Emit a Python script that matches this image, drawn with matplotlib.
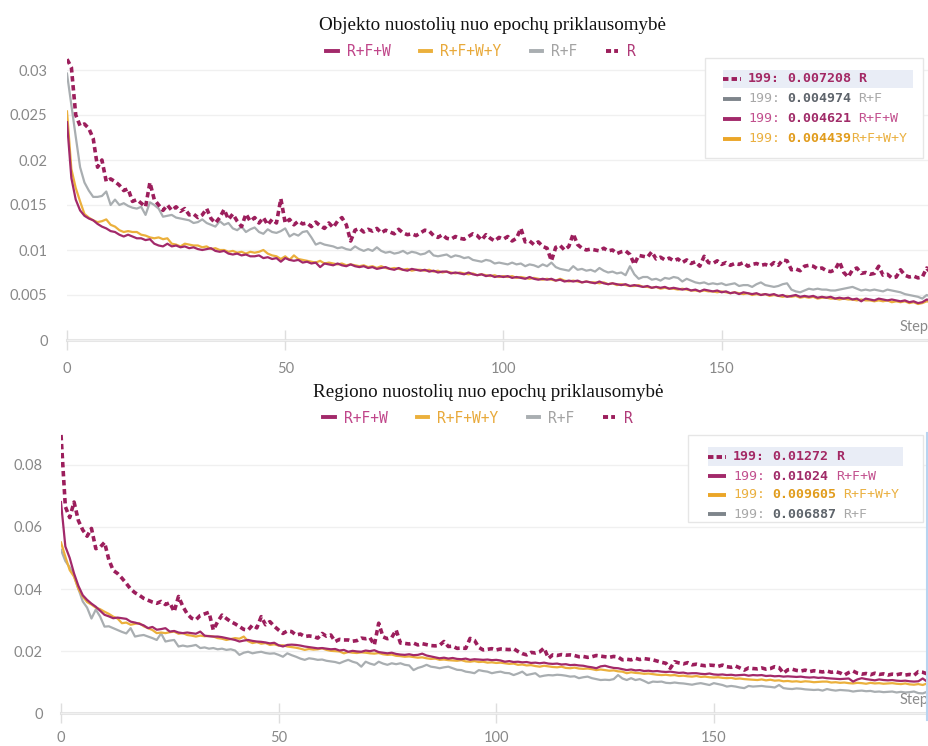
"""Loss vs. epoch plots (object loss and region loss) for four input configurations."""

import numpy as np
import matplotlib

matplotlib.use("Agg")
import matplotlib.pyplot as plt
from matplotlib.lines import Line2D
from matplotlib.patches import Rectangle

W, H = 929, 746

steps = np.arange(200)
series_names = ["R+F+W", "R+F+W+Y", "R+F", "R"]

# --- object loss (values x 1e-3) ---
obj_r = [
    31.2, 30.3, 25.0, 23.8, 24.0, 23.5, 22.4, 19.2, 20.0, 17.6,
    17.9, 17.6, 17.2, 16.6, 16.8, 15.4, 15.6, 15.2, 14.8, 17.5,
    15.6, 15.0, 14.4, 15.0, 14.4, 14.8, 14.3, 14.6, 13.9, 14.0,
    13.6, 13.9, 14.6, 13.5, 13.0, 13.6, 14.5, 13.4, 14.0, 13.2,
    12.6, 14.0, 13.2, 13.6, 13.0, 13.6, 12.8, 13.4, 13.0, 15.7,
    13.0, 13.4, 12.8, 13.2, 12.9, 13.0, 12.6, 13.1, 12.7, 12.4,
    13.0, 12.5, 13.2, 13.6, 12.8, 11.0, 12.2, 12.4, 12.0, 12.3,
    12.1, 12.4, 11.9, 12.2, 12.0, 11.8, 12.3, 11.9, 11.7, 11.8,
    11.6, 11.9, 12.2, 12.1, 11.6, 11.4, 11.7, 11.3, 11.2, 11.5,
    11.3, 11.2, 11.5, 11.8, 11.6, 11.1, 11.7, 11.3, 11.0, 11.4,
    11.2, 11.5, 11.0, 11.3, 12.4, 10.9, 11.0, 10.6, 10.9, 10.4,
    10.2, 8.8, 10.3, 10.5, 10.0, 10.4, 11.8, 10.6, 10.2, 10.0,
    10.1, 10.0, 9.9, 10.2, 9.9, 10.0, 9.6, 9.8, 9.9, 9.5,
    8.4, 9.4, 9.3, 9.2, 9.8, 9.0, 9.2, 8.9, 9.1, 8.8,
    9.0, 8.6, 8.9, 8.5, 8.7, 8.2, 9.3, 8.6, 8.5, 8.8,
    8.4, 8.6, 8.3, 8.5, 8.4, 8.6, 8.2, 8.4, 8.5, 8.3,
    8.4, 8.2, 8.6, 8.3, 8.9, 8.8, 7.8, 7.9, 7.7, 8.2,
    8.3, 8.2, 7.9, 8.0, 7.7, 7.6, 7.8, 8.7, 7.5, 7.0,
    7.8, 8.0, 7.4, 7.5, 7.3, 7.4, 8.2, 7.2, 7.3, 6.9,
    7.0, 7.8, 7.2, 7.0, 7.1, 6.9, 7.0, 8.0, 7.4, 7.2,
]
obj_rf = [
    29.6, 26.1, 22.6, 19.2, 17.5, 16.6, 15.9, 15.9, 16.0, 16.5,
    15.0, 15.6, 15.0, 15.2, 14.9, 14.7, 14.6, 14.8, 13.9, 15.3,
    15.0, 14.6, 13.7, 13.8, 13.9, 13.6, 13.5, 13.4, 13.3, 13.0,
    13.1, 13.4, 13.0, 12.8, 12.6, 13.2, 12.8, 13.0, 12.4, 12.2,
    12.6, 12.0, 12.3, 12.5, 12.0, 11.8, 12.3, 12.0, 11.9, 12.1,
    12.4, 11.5, 11.8, 11.6, 12.0, 12.1, 11.4, 10.6, 10.8, 10.6,
    10.5, 10.4, 10.2, 10.3, 10.1, 10.0, 10.4, 10.1, 9.9, 10.1,
    9.9, 10.3, 9.9, 9.7, 9.8, 9.6, 9.7, 9.9, 9.6, 9.8,
    9.7, 9.5, 9.6, 9.9, 9.4, 9.3, 9.4, 9.5, 9.2, 9.4,
    9.3, 9.1, 9.2, 8.9, 8.8, 8.7, 8.9, 8.8, 8.5, 8.6,
    8.5, 8.4, 8.6, 8.4, 8.5, 8.2, 8.4, 8.3, 8.1, 8.4,
    8.2, 8.6, 8.1, 7.9, 7.8, 7.7, 8.2, 7.8, 7.9, 7.7,
    7.8, 7.6, 8.0, 7.7, 7.5, 7.6, 7.4, 7.5, 7.2, 8.2,
    7.3, 6.8, 7.0, 7.0, 6.7, 6.8, 6.6, 6.9, 6.8, 7.0,
    6.9, 6.5, 6.8, 6.6, 6.4, 6.3, 6.4, 6.2, 6.3, 6.2,
    6.3, 6.1, 6.2, 6.3, 6.0, 6.1, 6.1, 5.9, 6.2, 6.4,
    6.1, 6.0, 5.9, 6.0, 6.2, 6.3, 5.6, 5.4, 5.3, 5.5,
    5.7, 5.6, 5.7, 5.6, 5.6, 5.5, 5.5, 5.6, 5.7, 5.8,
    5.9, 5.7, 5.5, 5.6, 5.5, 5.6, 5.5, 5.4, 5.6, 5.5,
    5.4, 5.3, 5.1, 5.0, 4.9, 4.8, 4.6, 5.0, 4.8, 5.0,
]
obj_rfw = [
    24.2, 18.0, 15.6, 14.4, 13.8, 13.5, 13.3, 12.9, 12.6, 12.4,
    12.1, 12.0, 11.7, 11.5, 11.7, 11.5, 11.3, 11.3, 11.1, 11.2,
    10.7, 10.5, 10.4, 10.7, 10.4, 10.5, 10.3, 10.4, 10.2, 10.3,
    10.1, 10.0, 10.1, 10.2, 9.9, 9.8, 9.9, 9.6, 9.5, 9.6,
    9.4, 9.5, 9.3, 9.3, 9.4, 9.1, 9.2, 9.0, 9.1, 8.7,
    9.1, 8.9, 8.8, 8.9, 8.6, 8.7, 8.5, 8.6, 8.1, 8.5,
    8.4, 8.3, 8.5, 8.3, 8.2, 8.4, 8.2, 8.1, 8.2, 8.0,
    8.1, 7.9, 8.0, 8.1, 7.9, 7.8, 8.0, 7.8, 7.7, 7.9,
    7.8, 7.7, 7.8, 7.6, 7.7, 7.5, 7.6, 7.6, 7.4, 7.5,
    7.4, 7.3, 7.5, 7.3, 7.2, 7.3, 7.1, 7.2, 7.0, 7.1,
    7.0, 7.1, 6.9, 7.0, 6.9, 6.8, 7.0, 6.8, 6.7, 6.8,
    6.7, 6.8, 6.6, 6.7, 6.5, 6.6, 6.5, 6.6, 6.4, 6.5,
    6.4, 6.3, 6.5, 6.3, 6.2, 6.3, 6.2, 6.1, 6.2, 6.0,
    6.1, 6.0, 5.9, 6.0, 5.8, 5.9, 5.8, 5.9, 5.7, 5.8,
    5.7, 5.6, 5.7, 5.5, 5.6, 5.4, 5.6, 5.5, 5.4, 5.5,
    5.3, 5.4, 5.2, 5.3, 5.1, 5.3, 5.2, 5.1, 5.2, 5.0,
    5.1, 5.0, 5.1, 4.9, 5.0, 4.8, 4.9, 5.0, 4.8, 4.9,
    4.8, 4.9, 4.7, 4.8, 4.7, 4.8, 4.6, 4.7, 4.6, 4.7,
    4.5, 4.6, 4.3, 4.6, 4.5, 4.4, 4.6, 4.5, 4.4, 4.5,
    4.4, 4.3, 4.4, 4.2, 4.3, 4.1, 4.2, 4.5, 4.4, 4.6,
]
obj_rfwy = [
    25.4, 19.0, 16.9, 15.4, 14.0, 13.6, 13.3, 13.1, 13.2, 13.4,
    12.8, 12.6, 12.2, 12.0, 12.1, 12.0, 12.0, 11.7, 11.6, 11.4,
    11.3, 11.4, 11.2, 11.3, 10.7, 10.6, 10.4, 10.7, 10.6, 10.5,
    10.5, 10.3, 10.4, 10.1, 10.2, 10.0, 10.0, 9.8, 9.9, 9.7,
    9.8, 9.6, 9.8, 9.7, 9.8, 10.0, 9.6, 9.4, 9.3, 9.0,
    9.3, 8.9, 9.4, 9.0, 8.9, 8.8, 8.7, 8.6, 8.8, 8.5,
    8.6, 8.5, 8.4, 8.5, 8.3, 8.4, 8.3, 8.2, 8.3, 8.1,
    8.2, 8.0, 8.2, 8.0, 7.9, 8.0, 7.9, 7.8, 7.9, 7.7,
    7.8, 7.8, 7.7, 7.8, 7.6, 7.7, 7.5, 7.6, 7.5, 7.4,
    7.5, 7.4, 7.3, 7.4, 7.2, 7.3, 7.2, 7.1, 7.2, 7.0,
    7.1, 7.0, 7.1, 6.9, 7.0, 6.9, 6.8, 6.9, 6.8, 6.7,
    6.8, 6.7, 6.6, 6.8, 6.6, 6.5, 6.6, 6.5, 6.4, 6.5,
    6.4, 6.4, 6.3, 6.4, 6.2, 6.3, 6.1, 6.2, 6.1, 6.0,
    6.0, 6.1, 5.9, 5.9, 5.8, 5.9, 5.7, 5.8, 5.7, 5.7,
    5.6, 5.7, 5.6, 5.5, 5.5, 5.4, 5.5, 5.4, 5.4, 5.3,
    5.4, 5.3, 5.2, 5.3, 5.2, 5.1, 5.2, 5.0, 5.1, 5.0,
    5.1, 4.9, 5.0, 4.9, 4.8, 4.9, 4.8, 4.9, 4.7, 4.8,
    4.7, 4.8, 4.6, 4.7, 4.7, 4.6, 4.6, 4.5, 4.6, 4.5,
    4.5, 4.4, 4.5, 4.4, 4.4, 4.3, 4.4, 4.3, 4.4, 4.2,
    4.3, 4.2, 4.3, 4.1, 4.2, 4.0, 4.1, 4.3, 4.2, 4.4,
]

# --- region loss (values x 1e-3) ---
reg_r = [
    89.6, 66.5, 63.0, 68.0, 62.0, 59.0, 57.0, 59.5, 53.0, 53.5,
    55.0, 49.4, 46.0, 45.0, 43.5, 41.8, 40.0, 38.8, 38.0, 37.0,
    36.4, 35.8, 35.4, 36.0, 35.0, 35.6, 32.7, 37.6, 34.4, 32.0,
    30.6, 30.1, 31.5, 32.0, 32.5, 26.8, 29.5, 31.6, 30.5, 29.5,
    28.8, 27.9, 27.0, 26.8, 28.4, 27.5, 31.1, 28.5, 29.5, 28.0,
    26.8, 25.7, 26.5, 26.3, 25.2, 25.5, 24.7, 24.9, 24.7, 24.2,
    25.7, 24.8, 25.2, 23.1, 23.8, 23.6, 23.6, 23.2, 23.4, 24.2,
    24.0, 24.3, 22.0, 29.0, 24.6, 24.0, 24.4, 26.8, 22.6, 22.5,
    22.3, 22.6, 22.0, 22.4, 22.1, 21.8, 21.7, 21.9, 23.1, 21.5,
    21.6, 20.9, 21.0, 20.9, 24.1, 23.5, 21.2, 20.4, 20.6, 20.8,
    20.4, 20.7, 20.6, 20.5, 20.8, 19.9, 19.2, 18.8, 19.6, 19.4,
    19.8, 21.0, 17.7, 18.8, 18.6, 18.9, 18.7, 18.8, 18.6, 18.2,
    18.3, 18.0, 18.2, 18.6, 18.4, 18.2, 18.0, 18.3, 18.1, 17.2,
    17.4, 17.2, 17.7, 17.3, 17.6, 17.4, 17.2, 16.8, 16.4, 16.1,
    14.5, 16.6, 16.2, 15.9, 16.3, 15.6, 15.8, 15.5, 15.3, 15.5,
    15.4, 15.1, 15.5, 15.0, 14.8, 15.2, 14.6, 13.9, 14.6, 14.4,
    14.3, 14.6, 14.2, 14.4, 15.0, 14.7, 12.9, 14.0, 14.2, 13.8,
    13.6, 13.9, 13.4, 13.7, 13.5, 13.3, 13.6, 13.2, 13.4, 13.0,
    12.3, 13.1, 13.6, 12.9, 12.6, 12.8, 12.4, 12.9, 12.5, 12.7,
    12.3, 12.6, 12.4, 12.7, 12.3, 12.5, 12.2, 13.4, 13.2, 12.7,
]
reg_rfw = [
    68.0, 53.7, 50.0, 45.0, 41.0, 38.0, 36.5, 35.3, 34.3, 33.0,
    31.7, 31.2, 30.6, 30.8, 30.6, 30.4, 29.5, 29.2, 28.8, 28.3,
    27.4, 27.8, 26.9, 27.1, 27.4, 26.3, 26.5, 26.0, 25.8, 26.0,
    25.8, 25.6, 26.3, 25.0, 24.8, 24.7, 24.7, 24.5, 24.2, 23.9,
    23.6, 23.1, 23.4, 23.6, 23.3, 23.1, 23.0, 22.8, 22.5, 22.7,
    21.9, 21.5, 22.0, 22.1, 22.0, 21.8, 21.5, 21.3, 21.1, 20.9,
    21.0, 20.8, 20.6, 20.7, 20.2, 20.4, 19.8, 20.1, 19.9, 19.8,
    20.2, 20.0, 20.3, 19.7, 19.5, 19.3, 19.5, 19.1, 18.9, 18.8,
    19.0, 18.7, 18.8, 19.2, 18.6, 18.3, 18.0, 17.7, 17.9, 17.6,
    17.8, 17.5, 17.4, 17.6, 17.2, 17.4, 17.3, 17.2, 17.3, 17.1,
    17.2, 17.0, 16.6, 16.8, 16.5, 16.6, 16.4, 16.5, 16.2, 16.3,
    16.1, 16.3, 16.0, 15.9, 16.0, 15.7, 15.8, 15.5, 15.6, 15.4,
    15.3, 15.0, 14.8, 14.5, 15.1, 15.3, 14.9, 14.6, 14.5, 14.2,
    13.9, 14.1, 13.8, 13.9, 13.6, 13.7, 13.5, 13.6, 13.4, 13.3,
    13.4, 13.2, 13.0, 13.1, 12.8, 12.9, 12.9, 12.7, 12.6, 12.8,
    12.5, 12.4, 12.5, 12.3, 12.4, 12.2, 12.3, 12.4, 12.1, 12.3,
    12.2, 12.3, 12.0, 12.1, 11.9, 12.0, 11.8, 11.9, 11.8, 11.7,
    11.8, 11.6, 11.5, 11.6, 11.4, 11.5, 11.3, 11.2, 11.1, 11.0,
    11.1, 11.2, 10.2, 10.9, 11.3, 11.0, 10.8, 10.6, 10.9, 10.7,
    10.6, 10.7, 10.5, 10.4, 10.5, 10.3, 10.2, 10.3, 11.2, 10.2,
]
reg_rfwy = [
    55.0, 50.4, 46.1, 44.0, 40.0, 37.6, 35.8, 35.0, 34.0, 33.5,
    32.7, 32.0, 31.1, 30.5, 29.0, 29.2, 28.5, 28.8, 29.0, 28.0,
    27.4, 26.8, 25.8, 26.0, 25.8, 26.1, 26.3, 25.6, 25.8, 25.2,
    25.0, 24.7, 25.0, 24.8, 24.9, 24.7, 24.2, 24.0, 23.6, 23.9,
    24.2, 24.0, 24.7, 23.2, 22.6, 22.9, 22.4, 22.6, 22.0, 22.2,
    21.8, 21.9, 21.5, 21.3, 21.1, 20.8, 20.4, 20.7, 20.5, 20.6,
    20.9, 20.4, 20.1, 20.0, 19.9, 19.3, 19.7, 19.5, 19.4, 19.6,
    19.5, 19.3, 19.2, 19.4, 19.0, 18.8, 18.9, 18.5, 18.4, 18.2,
    18.3, 18.1, 17.9, 18.0, 17.7, 17.5, 17.6, 17.2, 17.3, 17.1,
    17.0, 16.9, 17.1, 16.7, 16.6, 16.8, 16.5, 16.6, 16.3, 16.4,
    16.2, 16.3, 16.1, 15.9, 16.0, 15.6, 15.7, 15.4, 15.5, 15.2,
    15.0, 15.3, 15.1, 14.9, 14.8, 15.0, 14.6, 14.5, 14.7, 14.4,
    14.3, 14.4, 14.2, 13.9, 14.1, 13.9, 13.7, 13.8, 13.5, 13.4,
    12.9, 13.2, 13.0, 12.9, 12.7, 12.8, 12.6, 12.4, 12.3, 12.4,
    12.2, 12.3, 12.0, 12.1, 11.9, 11.8, 12.0, 11.7, 11.8, 11.6,
    11.5, 11.6, 11.4, 11.3, 11.4, 11.1, 11.2, 11.0, 10.9, 10.8,
    10.7, 10.9, 10.6, 10.8, 10.5, 10.6, 10.3, 10.4, 10.2, 10.3,
    10.1, 10.3, 10.2, 10.0, 10.1, 10.2, 10.2, 9.9, 10.0, 9.8,
    9.9, 9.7, 9.6, 9.8, 9.7, 9.5, 9.8, 9.6, 9.7, 9.5,
    9.6, 9.7, 9.5, 9.4, 9.6, 9.3, 9.2, 9.4, 9.1, 9.6,
]
reg_rf = [
    52.6, 49.0, 47.0, 44.1, 40.0, 36.0, 34.0, 30.5, 33.4, 31.1,
    27.9, 28.0, 27.4, 26.8, 26.2, 25.7, 27.4, 24.7, 25.0, 25.2,
    24.7, 24.2, 23.6, 25.7, 23.1, 23.4, 23.6, 21.5, 21.8, 21.5,
    21.7, 22.0, 21.0, 21.2, 20.8, 21.0, 20.6, 20.8, 20.4, 20.6,
    20.2, 18.8, 19.5, 19.8, 19.3, 19.6, 19.8, 19.4, 19.2, 19.3,
    18.8, 18.2, 19.3, 18.7, 18.2, 17.6, 17.2, 17.7, 17.5, 17.2,
    17.3, 16.9, 16.7, 16.5, 16.1, 16.7, 17.2, 16.6, 16.2, 15.0,
    16.6, 16.0, 15.6, 16.6, 16.0, 15.6, 16.1, 15.8, 16.1, 15.6,
    15.4, 13.9, 14.6, 15.0, 15.6, 15.0, 14.8, 14.5, 14.8, 15.0,
    14.5, 14.0, 13.9, 13.4, 13.2, 12.9, 13.9, 13.6, 13.4, 12.9,
    13.2, 13.4, 13.0, 12.9, 12.3, 12.8, 13.4, 12.3, 12.6, 12.9,
    11.8, 12.1, 12.3, 12.2, 12.4, 12.3, 12.1, 11.8, 11.9, 11.3,
    11.6, 11.8, 11.3, 11.0, 10.7, 10.8, 10.7, 11.0, 12.3, 11.2,
    10.7, 11.3, 10.7, 11.0, 10.4, 9.7, 10.2, 10.1, 10.2, 9.8,
    9.7, 9.9, 9.7, 9.6, 9.4, 9.2, 9.5, 9.7, 9.4, 9.1,
    9.7, 9.4, 9.1, 8.6, 8.8, 8.6, 8.3, 8.1, 8.8, 8.6,
    8.7, 8.8, 8.6, 8.5, 8.3, 9.1, 8.1, 7.9, 7.8, 8.0,
    7.9, 7.7, 7.6, 7.5, 7.6, 7.3, 7.8, 7.5, 7.3, 7.5,
    7.4, 7.3, 7.0, 7.2, 7.3, 7.1, 7.2, 6.9, 7.0, 6.8,
    6.9, 7.0, 6.7, 6.9, 6.7, 6.8, 7.0, 6.5, 6.4, 6.9,
]

# values shown in the hover boxes at step 199 (order as displayed)
obj_hover_names = ["R", "R+F", "R+F+W", "R+F+W+Y"]
obj_hover_values = ["0.007208", "0.004974", "0.004621", "0.004439"]
obj_hover_seps = [" ", " ", " ", ""]
reg_hover_names = ["R", "R+F+W", "R+F+W+Y", "R+F"]
reg_hover_values = ["0.01272", "0.01024", "0.009605", "0.006887"]
reg_hover_seps = [" ", " ", " ", " "]

obj_yticks = [0, 0.005, 0.01, 0.015, 0.02, 0.025, 0.03]
obj_ylabels = ["0", "0.005", "0.01", "0.015", "0.02", "0.025", "0.03"]
reg_yticks = [0, 0.02, 0.04, 0.06, 0.08]
reg_ylabels = ["0", "0.02", "0.04", "0.06", "0.08"]
xticks = [0, 50, 100, 150]

STYLE = {
    "R+F+W": dict(color="#a2296a", lw=1.6, ls="-", zorder=3),
    "R+F+W+Y": dict(color="#ebb03c", lw=1.6, ls="-", zorder=2),
    "R+F": dict(color="#a9aeb1", lw=1.6, ls="-", zorder=1),
    "R": dict(color="#9c1e5c", lw=2.6, ls=(0, (1.5, 1.0)), zorder=4),
}
TEXT_COLORS = {
    "R+F+W": ("#c2508e", "#a02b68"),
    "R+F+W+Y": ("#eab040", "#e19c1c"),
    "R+F": ("#a8a8a8", "#5e646b"),
    "R": ("#a32864", "#a32864"),
}
HANDLE_COLORS = {"R+F+W": "#a2296a", "R+F+W+Y": "#eba628", "R+F": "#7e858b", "R": "#9c1e5c"}
LEGEND_TEXT = {"R+F+W": "#c0468a", "R+F+W+Y": "#e8a93a", "R+F": "#a3a3a3", "R": "#b03a78"}

TICK_GRAY = "#888888"
MONO = "DejaVu Sans Mono"

plt.rcParams["font.family"] = ["Lato", "DejaVu Sans"]


def fxy(px, py):
    return px / W, 1 - py / H


def add_axes_px(fig, x0, y0, x1, y1):
    return fig.add_axes([x0 / W, 1 - y1 / H, (x1 - x0) / W, (y1 - y0) / H])


def draw_panel(ax, data, xmax, ylim, yticks, ylabels, ypad, xpad, step_y):
    for name in ["R+F", "R+F+W+Y", "R+F+W", "R"]:
        st = STYLE[name]
        ax.plot(steps, np.array(data[name]) * 1e-3, color=st["color"], lw=st["lw"],
                ls=st["ls"], zorder=st["zorder"], solid_joinstyle="round")
    ax.set_xlim(0, xmax)
    ax.set_ylim(*ylim)
    for side in ["top", "right", "left"]:
        ax.spines[side].set_visible(False)
    ax.spines["bottom"].set_position(("data", 0))
    ax.spines["bottom"].set_color("#e4e4e4")
    ax.spines["bottom"].set_linewidth(2.2)
    ax.spines["bottom"].set_zorder(0.5)
    ax.set_xticks(xticks)
    ax.tick_params(axis="x", direction="inout", length=14, width=1, color="#dedede",
                   pad=xpad, labelsize=10.5, labelcolor=TICK_GRAY)
    ax.set_yticks(yticks, ylabels)
    ax.tick_params(axis="y", length=0, pad=ypad, labelsize=10.5, labelcolor=TICK_GRAY)
    ax.grid(axis="y", color="#f0f0f0", lw=1)
    ax.set_axisbelow(True)
    ax.text(0.999, step_y, "Step", transform=ax.get_yaxis_transform(), ha="right",
            va="center", fontsize=10.5, color="#8a8a8a")


def top_legend(fig, cx, cy):
    handles = [Line2D([], [], color=STYLE[n]["color"], lw=2.8,
                      ls=(0, (1.3, 0.8)) if n == "R" else "-") for n in series_names]
    leg = fig.legend(handles, series_names, loc="center", bbox_to_anchor=fxy(cx, cy),
                     ncol=4, frameon=False, handlelength=0.8, handletextpad=0.6,
                     columnspacing=2.0, prop={"family": MONO, "size": 10.5},
                     borderpad=0, borderaxespad=0)
    for txt, n in zip(leg.get_texts(), series_names):
        txt.set_color(LEGEND_TEXT[n])


def hover_box(fig, box, hl, names, values, seps, x_handle, x_text, y_first, dy, cw):
    x0, y0, x1, y1 = box
    fig.add_artist(Rectangle(fxy(x0, y1), (x1 - x0) / W, (y1 - y0) / H,
                             transform=fig.transFigure, facecolor="white",
                             edgecolor="#e6e6e6", lw=1, zorder=5))
    hx0, hy0, hx1, hy1 = hl
    fig.add_artist(Rectangle(fxy(hx0, hy1), (hx1 - hx0) / W, (hy1 - hy0) / H,
                             transform=fig.transFigure, facecolor="#e9edf6",
                             edgecolor="none", zorder=6))
    for i, (name, val, sep) in enumerate(zip(names, values, seps)):
        y = y_first + i * dy
        light, dark = TEXT_COLORS[name]
        bold_row = i == 0
        ls = (0, (1.4, 0.8)) if name == "R" else "-"
        fig.add_artist(Line2D([x_handle / W, (x_handle + 18) / W], [1 - y / H, 1 - y / H],
                              transform=fig.transFigure, color=HANDLE_COLORS[name],
                              lw=2.8, ls=ls, zorder=7, solid_capstyle="butt"))
        fig.text(*fxy(x_text, y), "199:", family=MONO, size=9.5, color=light,
                 weight="bold" if bold_row else "normal", va="center", zorder=7)
        xv = x_text + 5 * cw
        fig.text(*fxy(xv, y), val, family=MONO, size=9.5, color=dark, weight="bold",
                 va="center", zorder=7)
        xl = xv + (len(val) + len(sep)) * cw
        fig.text(*fxy(xl, y), name, family=MONO, size=9.5, color=light,
                 weight="bold" if bold_row else "normal", va="center", zorder=7)


fig = plt.figure(figsize=(W / 100, H / 100), dpi=100)

# object loss panel
ax1 = add_axes_px(fig, 67, 50.2, 929, 350.8)
draw_panel(ax1, {"R": obj_r, "R+F": obj_rf, "R+F+W": obj_rfw, "R+F+W+Y": obj_rfwy},
           (929 - 67) / 4.364, (-0.0012, 0.0322), obj_yticks, obj_ylabels, 14, 9, 0.00144)
fig.text(*fxy(493, 30), "Objekto nuostolių nuo epochų priklausomybė", ha="center",
         va="baseline", family="Liberation Serif", size=13.7, color="#111111")
top_legend(fig, 481, 52)
hover_box(fig, (705, 58, 923, 158), (723, 70, 913, 88), obj_hover_names, obj_hover_values,
          obj_hover_seps, x_handle=723, x_text=748, y_first=79, dy=20, cw=7.9)

# region loss panel
ax2 = add_axes_px(fig, 61, 427.5, 929, 725.7)
draw_panel(ax2, {"R": reg_r, "R+F": reg_rf, "R+F+W": reg_rfw, "R+F+W+Y": reg_rfwy},
           (929 - 61) / 4.352, (-0.004, 0.092), reg_yticks, reg_ylabels, 13, 6, 0.0043)
ax2.axvline(199, ymin=0.02, ymax=0.98, color="#b8d4f0", lw=1.5, zorder=5)
fig.text(*fxy(488, 397), "Regiono nuostolių nuo epochų priklausomybė", ha="center",
         va="baseline", family="Liberation Serif", size=13.7, color="#111111")
top_legend(fig, 478, 418)
hover_box(fig, (688, 435, 923, 522), (708, 447, 903, 466), reg_hover_names, reg_hover_values,
          reg_hover_seps, x_handle=708, x_text=733, y_first=457, dy=19, cw=7.9)

fig.savefig("out.png", dpi=100, facecolor="white")
